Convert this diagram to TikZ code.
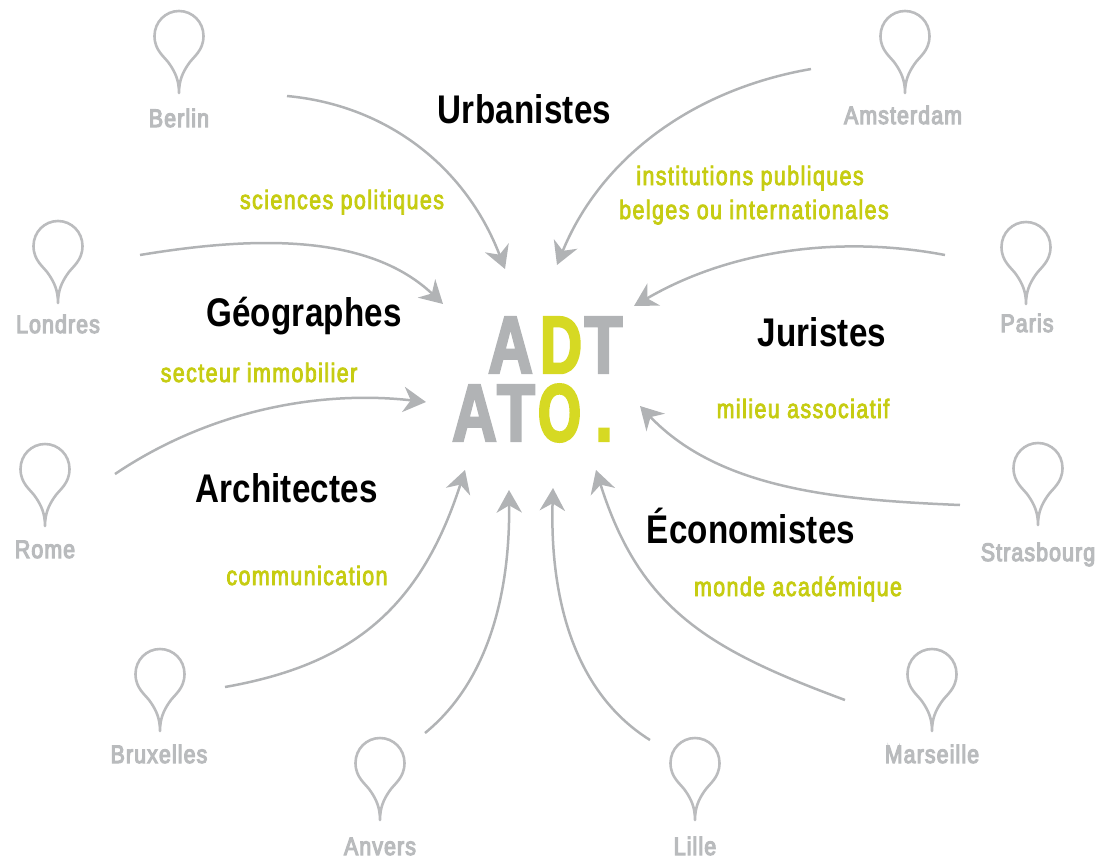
\documentclass[tikz,border=0pt]{standalone}
\usepackage{fontspec}
\setmainfont{Liberation Sans}
\newfontfamily\cityfont{Liberation Sans}[FakeStretch=0.84,FakeBold=4.5,LetterSpace=4.5]
\newfontfamily\proffont{Liberation Sans Bold}[FakeStretch=0.83,LetterSpace=0.5]
\newfontfamily\fieldfont{Liberation Sans}[FakeStretch=0.8,FakeBold=3,LetterSpace=5.5]
\newfontfamily\logofont{Liberation Sans Bold}[FakeStretch=0.76,FakeBold=3]
\usetikzlibrary{arrows.meta}
\definecolor{pingray}{HTML}{BBBCBE}
\definecolor{citygray}{HTML}{B9BBBD}
\definecolor{arrowgray}{HTML}{B1B3B5}
\definecolor{labelgreen}{HTML}{C6CC12}
\definecolor{logogreen}{HTML}{D6D923}
\tikzset{
  x=0.75pt,y=-0.75pt,
  pin/.pic={\draw[pingray,line width=2.6pt*0.75,line join=round,line cap=round]
    (0,57) .. controls (0,44) and (-4,36) .. (-9.5,28)
    .. controls (-14,21) and (-24.5,15) .. (-24.5,0)
    .. controls (-24.5,-14) and (-13.5,-25) .. (0,-25)
    .. controls (13.5,-25) and (24.5,-14) .. (24.5,0)
    .. controls (24.5,15) and (14,21) .. (9.5,28)
    .. controls (4,36) and (0,44) .. (0,57);},
  city/.style={text=citygray,font=\fontsize{19}{21}\cityfont,inner sep=0pt,anchor=base},
  prof/.style={text=black,font=\fontsize{30}{34}\proffont,inner sep=0pt,anchor=base},
  field/.style={text=labelgreen,font=\fontsize{20}{25}\fieldfont,inner sep=0pt,anchor=base,align=center},
  logog/.style={text=arrowgray,font=\fontsize{61}{61}\logofont,inner sep=0pt,anchor=base},
  logoy/.style={logog,text=logogreen},
  flow/.style={arrowgray,line width=2.5pt*0.75,-{Stealth[length=17pt,width=19pt,inset=5.5pt]}}
}
\begin{document}
\begin{tikzpicture}
\useasboundingbox (0,0) rectangle (1101,861);
% pins
\pic at (179,36) {pin};
\pic at (905,36) {pin};
\pic at (58,246) {pin};
\pic at (1026,247) {pin};
\pic at (45,469) {pin};
\pic at (1038,468) {pin};
\pic at (160,674) {pin};
\pic at (932,674) {pin};
\pic at (380,763) {pin};
\pic at (695,763) {pin};
% cities
\node[city] (berlin) at (179,127) {Berlin};
\node[city] (amsterdam) at (903,124) {Amsterdam};
\node[city] (londres) at (58,333) {Londres};
\node[city] (paris) at (1027,332) {Paris};
\node[city] (rome) at (45,558) {Rome};
\node[city] (strasbourg) at (1038,561) {Strasbourg};
\node[city] (bruxelles) at (159,763) {Bruxelles};
\node[city] (marseille) at (932,763) {Marseille};
\node[city] (anvers) at (380,855) {Anvers};
\node[city] (lille) at (695,855) {Lille};
% professions
\node[prof] (urb) at (524.5,123.5) {Urbanistes};
\node[prof] (geo) at (304,326.5) {Géographes};
\node[prof] (jur) at (822,346.5) {Juristes};
\node[prof] (arch) at (286.5,502.5) {Architectes};
\node[prof] (eco) at (751,543.5) {Économistes};
% fields
\node[field] (sci) at (342,209) {sciences politiques};
\node[field] (inst1) at (750,185) {institutions publiques};
\node[field] (inst2) at (754,219) {belges ou internationales};
\node[field] (imm) at (259,382) {secteur immobilier};
\node[field] (asso) at (803,418) {milieu associatif};
\node[field] (com) at (307,585) {communication};
\node[field] (acad) at (798,596) {monde académique};
% logo
\node[logog] (l1) at (510.5,373) {A};
\node[logoy] (l2) at (561,373) {\scalebox{0.94}[1]{D}};
\node[logog] (l3) at (603.5,373) {T};
\node[logog] (l4) at (474.5,441) {A};
\node[logog] (l5) at (516,441) {T};
\node[logoy] (l6) at (559.5,441) {\scalebox{0.9}[1]{O}};
\node[logoy] (l7) at (604,441) {.};
% connector ends
\coordinate (s1) at (287,96);   \coordinate (e1) at (505,269);
\coordinate (s2) at (811,69);   \coordinate (e2) at (557,265);
\coordinate (s3) at (140,255);  \coordinate (e3) at (443,304);
\coordinate (s4) at (945,255);  \coordinate (e4) at (634,306);
\coordinate (s5) at (115,474);  \coordinate (e5) at (426,402);
\coordinate (s6) at (960,505);  \coordinate (e6) at (640,406);
\coordinate (s7) at (225,687);  \coordinate (e7) at (465,470);
\coordinate (s8) at (845,700);  \coordinate (e8) at (596,470);
\coordinate (s9) at (425,733);  \coordinate (e9) at (509,490);
\coordinate (s10) at (650,740); \coordinate (e10) at (553,488);
\draw[flow] (s1) .. controls (385,105) and (465,165) .. (e1);
\draw[flow] (s2) .. controls (690,90) and (600,160) .. (e2);
\draw[flow] (s3) .. controls (260,235) and (370,235) .. (e3);
\draw[flow] (s4) .. controls (840,235) and (730,250) .. (e4);
\draw[flow] (s5) .. controls (210,410) and (320,390) .. (e5);
\draw[flow] (s6) .. controls (840,500) and (720,490) .. (e6);
\draw[flow] (s7) .. controls (350,665) and (420,610) .. (e7);
\draw[flow] (s8) .. controls (710,650) and (640,610) .. (e8);
\draw[flow] (s9) .. controls (490,680) and (510,590) .. (e9);
\draw[flow] (s10) .. controls (570,690) and (550,590) .. (e10);
\end{tikzpicture}
\end{document}
